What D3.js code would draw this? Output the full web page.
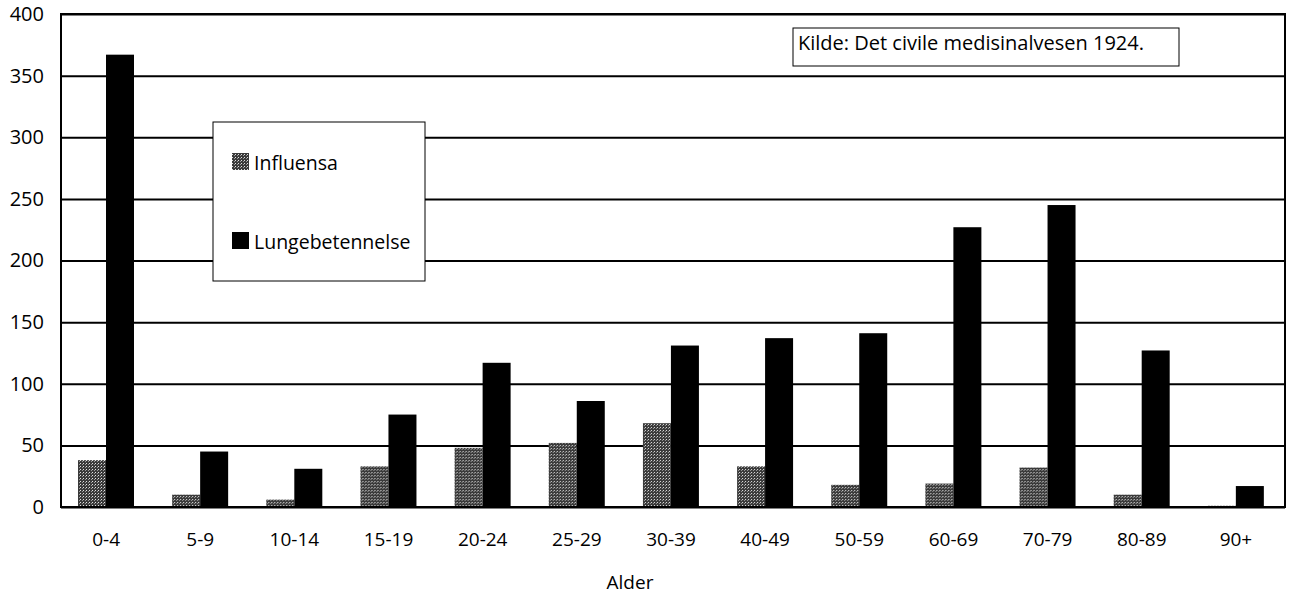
<!DOCTYPE html>
<html>
<head>
<meta charset="utf-8">
<script src="https://cdn.jsdelivr.net/npm/d3@7"></script>
<style>
  body { margin: 0; background: #fff; }
  svg text { font-family: "Open Sans", "Noto Sans", sans-serif; fill: #000; }
</style>
</head>
<body>
<svg id="chart" width="1294" height="600"></svg>
<script>
// data
let ageGroups = ["0-4", "5-9", "10-14", "15-19", "20-24", "25-29", "30-39", "40-49", "50-59", "60-69", "70-79", "80-89", "90+"];
let seriesNames = ["Influensa", "Lungebetennelse"];
let influensa = [38, 10, 6, 33, 48, 52, 68, 33, 18, 19, 32, 10, 1];
let lungebetennelse = [367, 45, 31, 75, 117, 86, 131, 137, 141, 227, 245, 127, 17];
let yTicks = [0, 50, 100, 150, 200, 250, 300, 350, 400];
let sourceNote = "Kilde: Det civile medisinalvesen 1924.";
let xTitle = "Alder";

let plotLeft = 61, plotRight = 1285, plotTop = 14, plotBottom = 507;

let svg = d3.select("#chart");

// stippled grey fill for influensa
let defs = svg.append("defs");
let pat = defs.append("pattern")
  .attr("id", "stipple")
  .attr("patternUnits", "userSpaceOnUse")
  .attr("width", 3).attr("height", 3);
pat.append("rect").attr("width", 3).attr("height", 3).attr("fill", "#3a3a3a");
pat.append("rect").attr("x", 1).attr("y", 1).attr("width", 1).attr("height", 1).attr("fill", "#e0e0e0");
pat.append("rect").attr("x", 0).attr("y", 2).attr("width", 1).attr("height", 1).attr("fill", "#9a9a9a");

let x0 = d3.scaleBand().domain(ageGroups).range([plotLeft, plotRight]);
let x1 = d3.scaleBand().domain(seriesNames).range([17, 73]);
let y = d3.scaleLinear().domain([0, 400]).range([plotBottom, plotTop]);

let fills = { "Influensa": "url(#stipple)", "Lungebetennelse": "#000" };

// gridlines
let grid = svg.append("g")
  .attr("transform", "translate(" + plotLeft + ",0)")
  .call(d3.axisLeft(y).tickValues(yTicks).tickSize(-(plotRight - plotLeft)).tickFormat(""));
grid.select(".domain").remove();
grid.selectAll("line").attr("stroke", "#000").attr("stroke-width", 2);

// bars
let rows = ageGroups.map(function(a, i) {
  return { age: a, vals: [
    { s: "Influensa", v: influensa[i] },
    { s: "Lungebetennelse", v: lungebetennelse[i] }
  ] };
});

let groups = svg.append("g").selectAll("g")
  .data(rows).enter().append("g")
  .attr("transform", function(d) { return "translate(" + x0(d.age) + ",0)"; });

groups.selectAll("rect")
  .data(function(d) { return d.vals; }).enter()
  .append("rect")
  .attr("x", function(d) { return x1(d.s); })
  .attr("width", x1.bandwidth())
  .attr("y", function(d) { return y(d.v); })
  .attr("height", function(d) { return plotBottom - y(d.v); })
  .attr("fill", function(d) { return fills[d.s]; });

// frame
svg.append("rect")
  .attr("x", plotLeft).attr("y", plotTop)
  .attr("width", plotRight - plotLeft).attr("height", plotBottom - plotTop)
  .attr("fill", "none").attr("stroke", "#000").attr("stroke-width", 2);

// y axis labels
let yAxis = svg.append("g")
  .attr("transform", "translate(" + plotLeft + ",0)")
  .call(d3.axisLeft(y).tickValues(yTicks).tickSize(0).tickPadding(17));
yAxis.select(".domain").remove();
yAxis.selectAll("text").style("font-size", "20px").style("font-family", "'Open Sans', sans-serif");

// x axis labels
let xAxis = svg.append("g")
  .attr("transform", "translate(-2," + plotBottom + ")")
  .call(d3.axisBottom(x0).tickSize(0).tickPadding(26));
xAxis.select(".domain").remove();
xAxis.selectAll("text").style("font-size", "19px").style("font-family", "'Open Sans', sans-serif");

svg.append("text")
  .attr("x", 630).attr("y", 589)
  .attr("text-anchor", "middle")
  .style("font-size", "19px")
  .text(xTitle);

// legend
let legend = svg.append("g");
legend.append("rect")
  .attr("x", 213).attr("y", 122).attr("width", 212).attr("height", 159)
  .attr("fill", "#fff").attr("stroke", "#000").attr("stroke-width", 1);
let legY = [153, 232];
seriesNames.forEach(function(s, i) {
  legend.append("rect")
    .attr("x", 232).attr("y", legY[i]).attr("width", 17).attr("height", 17)
    .attr("fill", fills[s]);
  legend.append("text")
    .attr("x", 254).attr("y", legY[i] + 17)
    .style("font-size", "19.5px")
    .text(s);
});

// source note
svg.append("rect")
  .attr("x", 793).attr("y", 28).attr("width", 386).attr("height", 38)
  .attr("fill", "#fff").attr("stroke", "#000").attr("stroke-width", 1);
svg.append("text")
  .attr("x", 798).attr("y", 50)
  .style("font-size", "20px")
  .text(sourceNote);
</script>
</body>
</html>
